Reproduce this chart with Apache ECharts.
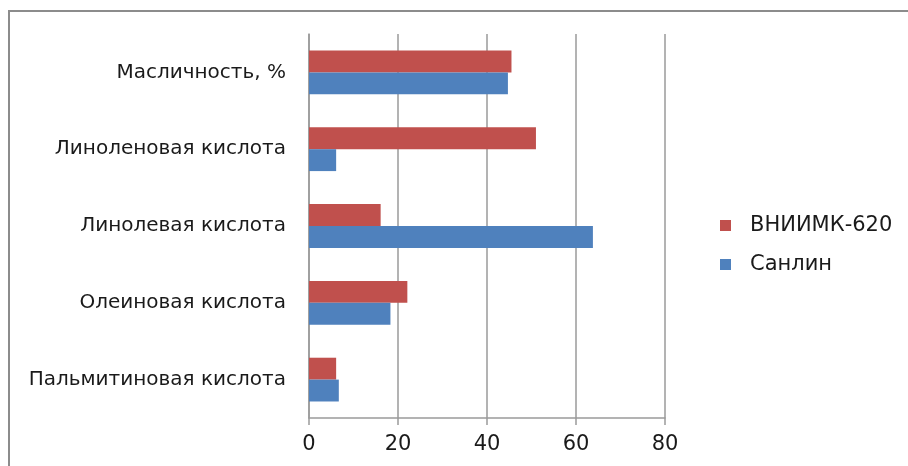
<!DOCTYPE html>
<html>
<head>
    <meta charset="utf-8">
    <title>ECharts</title>
    <script src="https://cdn.jsdelivr.net/npm/echarts@6/dist/echarts.min.js"></script>
    <style>
        html, body { margin: 0; padding: 0; background: #fff; }
    </style>
</head>
<body>
<div id="main" style="width: 908px;height:466px;"></div>
<script type="text/javascript">
    // данные (снизу вверх, как на оси)
    var categories = ['Пальмитиновая кислота', 'Олеиновая кислота', 'Линолевая кислота', 'Линоленовая кислота', 'Масличность, %'];
    var vniimk = [6.1, 22.1, 16.1, 51.0, 45.5];
    var sanlin = [6.7, 18.3, 63.8, 6.1, 44.7];
    var xTicks = [0, 20, 40, 60, 80];

    var font = '"DejaVu Sans", sans-serif';
    var myChart = echarts.init(document.getElementById('main'));

    var option = {
        backgroundColor: '#fff',
        animation: false,
        textStyle: { fontFamily: font },
        graphic: [{
            type: 'polyline',
            shape: { points: [[9, 466], [9, 11], [908, 11]] },
            style: { stroke: '#8c8c8c', lineWidth: 2, fill: null }
        }],
        legend: {
            orient: 'vertical',
            left: 715,
            top: 210,
            itemWidth: 39,
            itemHeight: 11,
            itemGap: 18,
            icon: 'path://M0,0h10v10h-10z',
            data: ['ВНИИМК-620', 'Санлин'],
            textStyle: { fontFamily: font, fontSize: 21, color: '#1a1a1a' }
        },
        grid: { left: 309, right: 243, top: 34, bottom: 48 },
        xAxis: {
            type: 'value',
            min: xTicks[0],
            max: xTicks[xTicks.length - 1],
            interval: 20,
            axisLine: { show: true, lineStyle: { color: '#9a9a9a', width: 1.5 } },
            axisTick: { show: true, length: 7, lineStyle: { color: '#9a9a9a', width: 1.5 } },
            splitLine: { lineStyle: { color: '#9a9a9a', width: 1.5 } },
            axisLabel: { fontFamily: font, fontSize: 21, color: '#1a1a1a', margin: 16 }
        },
        yAxis: {
            type: 'category',
            data: categories,
            axisLine: { lineStyle: { color: '#9a9a9a', width: 1.5 } },
            axisTick: { length: 8, lineStyle: { color: '#9a9a9a', width: 1.5 } },
            axisLabel: { fontFamily: font, fontSize: 20, color: '#1a1a1a', margin: 23 }
        },
        series: [{
            name: 'ВНИИМК-620',
            type: 'bar',
            data: vniimk,
            barGap: '0%',
            barCategoryGap: '43%',
            itemStyle: { color: '#C0504D' }
        }, {
            name: 'Санлин',
            type: 'bar',
            data: sanlin,
            barGap: '0%',
            barCategoryGap: '43%',
            itemStyle: { color: '#4F81BD' }
        }]
    };

    myChart.setOption(option);
</script>
</body>
</html>
